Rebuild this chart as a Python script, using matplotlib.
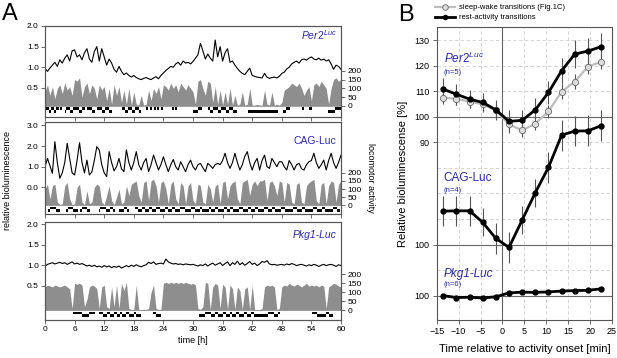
import numpy as np
import matplotlib
matplotlib.use("Agg")
import matplotlib.pyplot as plt
from matplotlib.lines import Line2D

plt.rcParams["font.family"] = ["Liberation Sans", "DejaVu Sans"]
plt.rcParams["mathtext.fontset"] = "custom"
plt.rcParams["mathtext.it"] = "Liberation Sans:italic"
plt.rcParams["mathtext.rm"] = "Liberation Sans"

# ---------------- panel A data (0.5 h resolution, 0..60 h) ----------------
hours = np.arange(0, 60.5, 0.5)

per2_lum = [0.97, 0.90, 0.98, 1.05, 1.12, 1.02, 1.18, 1.10, 1.22, 1.30, 1.15, 1.40, 1.42, 1.25,
            1.30, 1.18, 1.35, 1.45, 1.20, 1.12, 1.38, 1.50, 1.15, 1.45, 1.25, 1.05, 1.20, 1.10,
            0.95, 0.88, 1.02, 0.90, 0.82, 0.86, 0.80, 0.76, 0.80, 0.75, 0.72, 0.70, 0.73, 0.75,
            0.72, 0.70, 0.74, 0.77, 0.72, 0.80, 0.86, 0.92, 0.97, 1.02, 1.00, 1.08, 1.12, 1.05,
            1.15, 1.10, 1.12, 1.08, 1.14, 1.22, 1.30, 1.58, 1.40, 1.20, 1.32, 1.22, 1.15, 1.66,
            1.25, 1.50, 1.15, 1.35, 1.45, 1.12, 1.15, 1.05, 0.97, 0.90, 0.85, 0.82, 0.90, 0.98,
            0.80, 0.78, 0.76, 0.75, 0.74, 0.85, 0.76, 0.73, 0.75, 0.76, 0.74, 0.78, 0.85, 0.88,
            0.96, 1.00, 1.08, 1.12, 1.15, 1.10, 1.18, 1.20, 1.17, 1.22, 1.25, 1.20, 1.18, 1.22,
            1.17, 1.20, 1.15, 1.18, 1.08, 0.95, 1.05, 1.02, 0.95]
per2_act = [80, 120, 60, 110, 40, 100, 120, 70, 130, 90, 110, 60, 150, 140, 160, 50, 110, 130,
            70, 120, 100, 40, 120, 90, 110, 30, 100, 10, 120, 60, 110, 20, 90, 10, 100, 5, 80,
            10, 5, 60, 5, 10, 90, 30, 100, 70, 110, 40, 120, 110, 90, 130, 100, 120, 80, 130,
            110, 90, 120, 100, 80, 10, 140, 150, 100, 60, 140, 130, 20, 110, 10, 90, 5, 80, 10,
            100, 5, 60, 5, 10, 80, 5, 10, 100, 5, 5, 10, 5, 5, 90, 10, 5, 80, 5, 10, 5, 20, 90,
            100, 110, 130, 120, 110, 130, 100, 60, 90, 110, 30, 120, 130, 110, 140, 120, 100, 10,
            100, 150, 160, 140, 150]
per2_hi = [(0.3, 0.8), (1.3, 1.8), (2.3, 2.8), (3.0, 3.4), (4.2, 5.0), (5.6, 6.8), (7.5, 8.2),
           (8.6, 9.5), (10.6, 11.6), (12.2, 13.0), (15.6, 16.2), (16.8, 17.6), (18.2, 19.0),
           (20.4, 20.8), (21.2, 21.6), (22.0, 22.4), (22.8, 23.2), (23.6, 24.0), (25.8, 26.2),
           (26.4, 26.7), (31.0, 31.8), (33.0, 33.5), (34.0, 35.0), (35.6, 36.6), (37.2, 38.2),
           (48.8, 49.7), (52.0, 52.4), (53.6, 54.2), (58.8, 60.0)]
per2_lo = [(0.8, 1.3), (1.8, 2.3), (4.0, 4.2), (5.0, 5.6), (6.8, 7.5), (9.5, 10.2), (11.6, 12.2),
           (13.0, 13.6), (16.2, 16.8), (17.6, 18.2), (19.0, 19.4), (30.0, 31.0), (33.5, 34.0),
           (35.0, 35.6), (36.6, 37.2), (38.2, 39.0), (41.2, 47.3), (48.3, 48.8), (57.4, 58.8)]

cag_lum = [1.00, 1.40, 1.05, 0.68, 2.21, 1.20, 0.44, 0.70, 1.20, 2.13, 1.40, 0.70, 0.60, 1.30,
           2.16, 1.20, 0.70, 1.32, 0.60, 0.75, 1.30, 1.97, 1.81, 1.10, 0.70, 0.52, 1.73, 1.20,
           0.80, 1.00, 1.40, 0.90, 0.76, 1.81, 1.20, 0.84, 1.20, 1.73, 1.10, 0.84, 1.20, 1.40,
           0.76, 1.10, 1.56, 1.20, 0.84, 1.10, 1.48, 1.10, 0.76, 1.10, 1.35, 1.00, 0.84, 1.24,
           1.00, 0.76, 1.10, 1.32, 1.00, 0.84, 1.10, 1.16, 0.95, 0.76, 1.16, 1.05, 0.92, 1.10,
           1.16, 1.10, 1.30, 1.65, 1.20, 0.92, 1.20, 1.65, 1.20, 0.84, 1.10, 1.50, 1.73, 1.20,
           0.84, 1.20, 1.40, 0.84, 1.30, 1.56, 1.00, 0.92, 1.40, 1.20, 1.00, 1.24, 1.24, 1.00,
           0.84, 1.30, 1.10, 0.84, 1.10, 1.16, 0.90, 0.84, 1.10, 1.24, 1.30, 1.65, 1.20, 0.92,
           1.10, 1.32, 0.84, 1.30, 1.65, 1.20, 0.92, 1.20, 1.56]
cag_act = [100, 130, 40, 120, 130, 20, 5, 10, 120, 140, 40, 5, 10, 110, 130, 20, 5, 90, 10, 20,
           110, 130, 120, 20, 5, 60, 120, 30, 5, 50, 100, 10, 20, 120, 60, 130, 140, 150, 60, 20,
           140, 150, 30, 150, 160, 120, 20, 140, 150, 100, 10, 130, 150, 40, 10, 140, 120, 10,
           120, 140, 30, 10, 130, 120, 20, 10, 130, 100, 20, 120, 130, 10, 140, 150, 40, 120,
           140, 150, 40, 10, 140, 150, 160, 60, 130, 150, 120, 150, 150, 160, 30, 140, 150, 120,
           60, 150, 140, 20, 140, 130, 20, 10, 130, 140, 20, 10, 120, 140, 150, 160, 30, 10, 130,
           140, 10, 120, 150, 140, 20, 130, 150]
cag_hi = [(1.0, 2.2), (4.6, 5.6), (7.4, 8.6), (11.2, 12.4), (13.2, 13.8), (16.0, 16.6),
          (18.2, 18.8), (19.6, 20.2), (21.0, 21.6), (22.4, 23.4), (24.4, 25.0), (25.8, 26.4),
          (27.4, 28.4), (29.6, 30.4), (31.4, 31.8), (33.2, 33.6), (34.4, 35.0), (36.2, 36.8),
          (37.4, 38.2), (39.4, 40.2), (41.2, 41.8), (42.6, 43.2), (44.4, 45.2), (46.0, 46.6),
          (47.8, 48.6), (50.2, 51.0), (52.0, 52.8), (54.4, 55.2), (56.2, 56.8), (58.4, 59.2)]
cag_lo = [(0.6, 1.0), (2.2, 3.0), (4.2, 4.6), (5.6, 6.6), (7.0, 7.4), (8.6, 9.2), (11.0, 11.2),
          (12.4, 13.2), (13.8, 14.2), (14.9, 16.0), (16.6, 17.0), (18.8, 19.6), (20.2, 21.0),
          (21.6, 22.4), (23.4, 24.4), (25.0, 25.8), (26.4, 27.4), (28.4, 29.6), (30.4, 31.4),
          (31.8, 33.2), (33.6, 34.4), (35.0, 36.2), (36.8, 37.4), (38.2, 39.4), (40.2, 41.2),
          (41.8, 42.6), (43.2, 44.4), (45.2, 46.0), (46.6, 47.8), (48.6, 50.2), (51.0, 52.0),
          (52.8, 54.4), (55.2, 56.2), (56.8, 58.4), (59.2, 59.8)]

pkg1_lum = [0.97, 1.02, 1.04, 1.06, 1.03, 1.05, 1.07, 1.04, 1.06, 1.02, 1.05, 1.08, 1.03, 1.05,
            1.02, 1.04, 1.01, 0.98, 1.00, 0.97, 1.00, 0.96, 0.98, 0.95, 0.99, 0.96, 0.98, 0.94,
            0.97, 0.95, 0.98, 0.93, 0.96, 0.99, 0.96, 1.00, 0.97, 1.01, 0.98, 0.96, 0.99, 1.01,
            1.07, 1.04, 1.08, 1.02, 1.04, 1.05, 1.03, 1.15, 1.08, 1.05, 1.03, 1.04, 1.02, 1.03,
            1.01, 1.03, 1.02, 1.01, 1.02, 1.00, 0.98, 1.01, 0.99, 1.03, 0.98, 1.02, 1.05, 1.00,
            1.03, 1.06, 0.99, 1.04, 1.08, 0.99, 1.06, 1.02, 1.10, 1.01, 1.06, 1.00, 1.04, 1.09,
            1.02, 1.05, 0.99, 1.03, 1.09, 1.07, 1.11, 1.03, 1.01, 1.02, 1.00, 1.01, 1.02, 1.00,
            1.03, 1.01, 1.04, 1.02, 0.99, 1.01, 1.02, 1.00, 0.98, 1.01, 0.99, 1.02, 1.00, 0.97,
            1.00, 1.02, 0.99, 1.01, 1.02, 1.00, 0.97, 1.01, 0.99]
pkg1_act = [130, 140, 135, 130, 140, 135, 130, 135, 140, 130, 120, 10, 150, 145, 150, 140, 20,
            60, 130, 140, 135, 120, 10, 130, 140, 20, 10, 130, 20, 140, 10, 150, 110, 155, 10, 5,
            5, 140, 5, 5, 5, 5, 10, 100, 140, 10, 5, 5, 150, 155, 150, 155, 150, 155, 150, 155,
            150, 155, 150, 145, 150, 140, 10, 5, 20, 155, 150, 5, 130, 150, 140, 10, 145, 130, 5,
            140, 120, 5, 130, 110, 5, 120, 130, 5, 140, 5, 5, 5, 10, 130, 140, 135, 140, 130, 5,
            10, 130, 140, 135, 150, 140, 135, 145, 140, 130, 140, 150, 135, 140, 135, 140, 130,
            140, 135, 10, 130, 140, 150, 145, 135, 130]
pkg1_hi = [(5.7, 7.6), (9.0, 10.2), (11.0, 11.8), (12.6, 13.2), (14.0, 14.6), (15.2, 15.6),
           (16.4, 17.0), (18.0, 18.4), (21.8, 22.4), (32.4, 33.6), (34.4, 35.0), (36.0, 36.6),
           (37.4, 38.0), (38.8, 39.4), (40.4, 41.0), (41.8, 42.4), (45.2, 46.4), (47.2, 47.6),
           (54.2, 55.2), (57.0, 57.6)]
pkg1_lo = [(7.6, 9.0), (11.8, 12.6), (13.2, 14.0), (14.6, 15.2), (15.6, 16.4), (17.0, 18.0),
           (18.4, 19.5), (22.4, 23.6), (31.2, 32.4), (33.6, 34.4), (35.0, 36.0), (36.6, 37.4),
           (38.0, 38.8), (39.4, 40.4), (41.0, 41.8), (42.4, 45.2), (46.4, 47.2), (55.2, 57.0),
           (57.6, 58.4)]

# ---------------- panel B data ----------------
onset_min = [-13.5, -10.5, -7.5, -4.5, -1.5, 1.5, 4.5, 7.5, 10.5, 13.5, 16.5, 19.5, 22.5]
per2_rest = [110.8, 108.8, 106.9, 105.6, 102.7, 98.2, 98.6, 102.7, 109.5, 118.0, 124.5, 125.7, 127.4]
per2_rest_err = [4.2, 4.0, 3.5, 3.8, 4.0, 4.5, 4.0, 4.5, 4.5, 5.0, 5.5, 5.0, 5.5]
per2_sleep = [107.5, 107.0, 105.9, 104.9, 102.5, 97.0, 94.7, 97.3, 102.1, 109.8, 113.7, 119.6, 121.5]
per2_sleep_err = [2.5, 2.5, 2.5, 2.5, 2.5, 2.5, 2.5, 2.5, 2.5, 3.0, 3.0, 3.0, 3.0]
cag_rest = [113.1, 113.2, 113.2, 108.7, 102.4, 98.9, 109.6, 120.3, 130.2, 142.8, 144.4, 144.5, 146.5]
cag_rest_err = [6.0, 6.0, 6.0, 5.5, 6.0, 6.0, 5.5, 5.5, 6.0, 6.0, 6.0, 6.0, 6.0]
pkg1_rest = [100.0, 99.3, 99.4, 99.1, 99.6, 101.1, 101.4, 101.3, 101.5, 101.8, 102.0, 102.1, 102.7]
pkg1_rest_err = [0.5, 0.5, 0.5, 0.5, 0.5, 0.5, 0.5, 0.5, 0.5, 0.5, 0.5, 0.5, 0.6]
b_ytick_pos = [130, 120, 110, 100, 90, 50, 30]
b_ytick_lab = ["130", "120", "110", "100", "90", "100", "100"]

BLUE = "#2a2ab0"
FRAME = "#555555"
W, H = 617, 358


def fr(x0, y0, x1, y1):
    return [x0 / W, 1 - y1 / H, (x1 - x0) / W, (y1 - y0) / H]


def trace_panel(rect, lum, act, hi, lo, lylim, lticks, rylim, px_per_unit, name, italic,
                name_y, bottom=False):
    ax = fig.add_axes(rect)
    axr = ax.twinx()
    ax.set_zorder(axr.get_zorder() + 1)
    ax.patch.set_visible(False)
    axr.fill_between(hours, 0, act, color="#8e8e8e", lw=0)
    axr.axhline(0, color="#9a9a9a", lw=0.6)
    hb = (-1.5 / px_per_unit, -2.5 / px_per_unit)
    lb = (-4.0 / px_per_unit, -2.5 / px_per_unit)
    axr.broken_barh([(a, b - a) for a, b in hi], hb, color="black", lw=0)
    axr.broken_barh([(a, b - a) for a, b in lo], lb, color="black", lw=0)
    axr.set_ylim(*rylim)
    axr.set_yticks([0, 50, 100, 150, 200])
    ax.plot(hours, lum, color="black", lw=0.8)
    ax.set_ylim(*lylim)
    ax.set_yticks(lticks)
    ax.set_yticklabels([f"{v:.1f}" for v in lticks])
    ax.set_xlim(0, 60)
    ax.set_xticks(range(0, 61, 6))
    if not bottom:
        ax.set_xticklabels([])
    for a in (ax, axr):
        for s in a.spines.values():
            s.set_color(FRAME)
            s.set_linewidth(0.8)
        a.tick_params(labelsize=6, length=3, width=0.6, color=FRAME, pad=1.5)
    ax.text(0.985, name_y, name, transform=ax.transAxes, ha="right", va="center",
            color=BLUE, fontsize=7.5, style="italic" if italic else "normal")
    return ax


fig = plt.figure(figsize=(W / 100, H / 100), dpi=100)

trace_panel(fr(45, 26, 341, 116.7), per2_lum, per2_act, per2_hi, per2_lo,
            (-0.2, 2.0), [0.5, 1.0, 1.5, 2.0], (-60.6, 453), 0.1765,
            r"$\mathit{Per2}^{\mathit{Luc}}$", False, 0.90)
trace_panel(fr(45, 122.5, 341, 214), cag_lum, cag_act, cag_hi, cag_lo,
            (-1.29, 3.14), [0.0, 1.0, 2.0, 3.0], (-53, 508), 0.163,
            "CAG-Luc", False, 0.80)
axb = trace_panel(fr(45, 222, 341, 319.5), pkg1_lum, pkg1_act, pkg1_hi, pkg1_lo,
                  (-0.32, 2.05), [0.5, 1.0, 1.5, 2.0], (-51, 490.6), 0.18,
                  "Pkg1-Luc", True, 0.87, bottom=True)
axb.set_xlabel("time [h]", fontsize=6.5, labelpad=2)

fig.text(8 / W, 1 - 180 / H, "relative bioluminescence", rotation=90, ha="center",
         va="center", fontsize=6.5)
fig.text(370 / W, 1 - 178 / H, "locomotor activity", rotation=270, ha="center",
         va="center", fontsize=6.5)
fig.text(2 / W, 1 - 14 / H, "A", fontsize=17, va="center", ha="left")
fig.text(398 / W, 1 - 15 / H, "B", fontsize=17, va="center", ha="left")

# ---------------- panel B ----------------
ax = fig.add_axes(fr(436.7, 27.3, 612, 320))
ax.set_xlim(-15, 25)
ax.set_ylim(20.5, 135)
for v in range(30, 131, 10):
    if v not in (100, 50, 30):
        ax.axhline(v, color="#cfcfcf", lw=0.6, ls=(0, (4, 3)), zorder=0)
for v in (100, 50, 30):
    ax.axhline(v, color="#666666", lw=0.8, zorder=1)
for v in (-10, -5, 5, 10, 15, 20):
    ax.axvline(v, color="#cfcfcf", lw=0.6, ls=(0, (4, 3)), zorder=0)
ax.axvline(0, color="#666666", lw=0.8, zorder=1)

ekw = dict(ecolor="#555555", elinewidth=0.8, capsize=0, zorder=2)
ax.errorbar(onset_min, per2_sleep, yerr=per2_sleep_err, fmt="none", **ekw)
ax.plot(onset_min, per2_sleep, color="#bdbdbd", lw=1.6, marker="o", ms=4.5,
        mfc="#dcdcdc", mec="#6a6a6a", mew=0.6, zorder=3)
groups = [(per2_rest, per2_rest_err, 0), (cag_rest, cag_rest_err, -50),
          (pkg1_rest, pkg1_rest_err, -70)]
for vals, err, off in groups:
    y = np.array(vals) + off
    ax.errorbar(onset_min, y, yerr=err, fmt="none", **ekw)
    ax.plot(onset_min, y, color="black", lw=2, marker="o", ms=3.5, zorder=4)

ax.set_yticks(b_ytick_pos)
ax.set_yticklabels(b_ytick_lab)
ax.set_xticks(range(-15, 26, 5))
for s in ax.spines.values():
    s.set_color(FRAME)
    s.set_linewidth(0.8)
ax.tick_params(labelsize=6.5, length=3, width=0.6, color=FRAME, pad=2)
ax.set_xlabel("Time relative to activity onset [min]", fontsize=8, labelpad=6)
ax.set_ylabel("Relative bioluminescense [%]", fontsize=8, labelpad=5)

ax.text(0.04, 0.895, r"$\mathit{Per2}^{\mathit{Luc}}$", transform=ax.transAxes, color=BLUE,
        fontsize=8.5, va="center")
ax.text(0.04, 0.847, "(n=5)", transform=ax.transAxes, color=BLUE, fontsize=5.5, va="center")
ax.text(0.04, 0.485, "CAG-Luc", transform=ax.transAxes, color=BLUE, fontsize=8.5, va="center")
ax.text(0.04, 0.442, "(n=4)", transform=ax.transAxes, color=BLUE, fontsize=5.5, va="center")
ax.text(0.04, 0.157, "Pkg1-Luc", transform=ax.transAxes, color=BLUE, fontsize=8.5,
        va="center", style="italic")
ax.text(0.04, 0.12, "(n=6)", transform=ax.transAxes, color=BLUE, fontsize=5.5, va="center")

handles = [Line2D([], [], color="#bdbdbd", lw=1.6, marker="o", ms=4, mfc="#dcdcdc",
                  mec="#6a6a6a", mew=0.6),
           Line2D([], [], color="black", lw=2, marker="o", ms=3)]
fig.legend(handles, ["sleep-wake transitions (Fig.1C)", "rest-activity transitions"],
           loc="upper left", bbox_to_anchor=(432 / W, 0.997), frameon=False, fontsize=5.5,
           handlelength=2.6, labelspacing=0.35, handletextpad=0.5, borderaxespad=0)

fig.savefig("out.png", dpi=100)
